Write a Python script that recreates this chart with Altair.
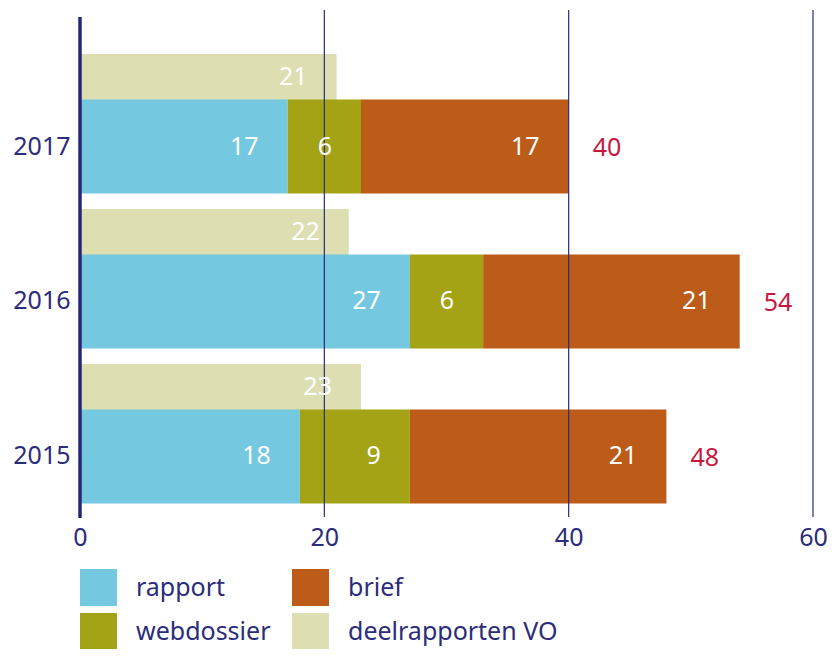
import altair as alt
import pandas as pd

years = ["2017", "2016", "2015"]
rapport = [17, 27, 18]
webdossier = [6, 6, 9]
brief = [17, 21, 21]
deelrapporten = [21, 22, 23]
totals = [40, 54, 48]
ticks = [0, 20, 40, 60]
grid_values = [20, 40, 60]

categories = ["rapport", "webdossier", "brief", "deelrapporten VO"]
colors = ["#74C8E0", "#A3A315", "#BD5B19", "#DDDFB2"]
stack_order = {"rapport": 0, "webdossier": 1, "brief": 2}

navy = "#2B2C7C"
crimson = "#C8183F"

rows = []
for i, y in enumerate(years):
    for cat, vals in (("rapport", rapport), ("webdossier", webdossier), ("brief", brief)):
        rows.append({"year": y, "cat": cat, "value": vals[i], "order": stack_order[cat]})
main_df = pd.DataFrame(rows)
deel_df = pd.DataFrame({"year": years, "cat": "deelrapporten VO", "value": deelrapporten})
tot_df = pd.DataFrame({"year": years, "total": totals})
grid_df = pd.DataFrame({"x": grid_values})
zero_df = pd.DataFrame({"x": [0]})

xscale = alt.Scale(domain=[0, 60])
xaxis = alt.Axis(title=None, values=ticks, domain=False, ticks=False, grid=False,
                 labelFontSize=25, labelColor=navy, labelPadding=8, labelFlush=False)
yenc = alt.Y("year:N", sort=years,
             scale=alt.Scale(paddingInner=0, paddingOuter=0.1355, align=0.869),
             axis=alt.Axis(title=None, domain=False, ticks=False, labelOffset=22.5,
                           labelPadding=10, labelFontSize=25, labelColor=navy))
color = alt.Color("cat:N", scale=alt.Scale(domain=categories, range=colors),
                  legend=alt.Legend(title=None, orient="none", legendX=0, legendY=559,
                                    columns=2, symbolType="square", symbolSize=1369,
                                    symbolStrokeWidth=0, symbolOpacity=1,
                                    labelFontSize=25, labelColor=navy, labelOffset=19,
                                    columnPadding=21, rowPadding=7, padding=0,
                                    labelLimit=300))

main = alt.Chart(main_df).transform_stack(
    stack="value", groupby=["year"], as_=["x0", "x1"], sort=[alt.SortField("order")]
)

main_bars = main.mark_bar(size=94, yOffset=22.5).encode(
    x=alt.X("x0:Q", scale=xscale, axis=xaxis),
    x2="x1:Q",
    y=yenc,
    color=color,
)
main_text = main.mark_text(align="right", baseline="middle", dx=-29, yOffset=22.5,
                           color="white", fontSize=25).encode(
    x=alt.X("x1:Q", scale=xscale, axis=xaxis),
    y=yenc,
    text="value:Q",
)

deel_bars = alt.Chart(deel_df).mark_bar(size=46, yOffset=-47).encode(
    x=alt.X("value:Q", scale=xscale, axis=xaxis),
    y=yenc,
    color=color,
)
deel_text = alt.Chart(deel_df).mark_text(align="right", baseline="middle", dx=-29, yOffset=-47,
                                         color="white", fontSize=25).encode(
    x=alt.X("value:Q", scale=xscale, axis=xaxis),
    y=yenc,
    text="value:Q",
)

tot_text = alt.Chart(tot_df).mark_text(align="left", baseline="middle", dx=24, yOffset=24,
                                       color=crimson, fontSize=25).encode(
    x=alt.X("total:Q", scale=xscale, axis=xaxis),
    y=yenc,
    text="total:Q",
)

grid = alt.Chart(grid_df).mark_rule(color=navy, strokeWidth=1.2).encode(
    x=alt.X("x:Q", scale=xscale, axis=xaxis),
)
zero = alt.Chart(zero_df).mark_rule(color="#262673", strokeWidth=3.5).encode(
    x=alt.X("x:Q", scale=xscale, axis=xaxis),
    y=alt.value(7),
    y2=alt.value(508),
)

chart = alt.layer(deel_bars, main_bars, grid, zero, main_text, deel_text, tot_text).properties(
    width=733,
    height=507,
    padding={"left": 72, "top": 2, "right": 14, "bottom": 132},
    autosize=alt.AutoSizeParams(type="none"),
).configure(font="Noto Sans").configure_view(stroke=None)

chart.save("out.html", embed_options={"renderer": "svg", "actions": False})
